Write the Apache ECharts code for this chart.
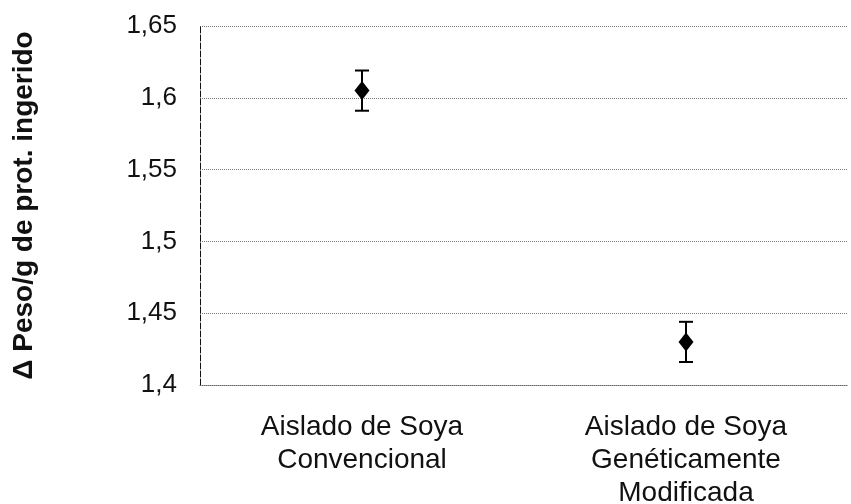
<!DOCTYPE html>
<html>
<head>
<meta charset="utf-8">
<script src="https://cdn.jsdelivr.net/npm/echarts@6/dist/echarts.min.js"></script>
<style>
  html, body { margin: 0; padding: 0; background: #fff; }
  #chart { width: 851px; height: 504px; }
</style>
</head>
<body>
<div id="chart"></div>
<script>
// datos
const categorias = ['Aislado de Soya\nConvencional', 'Aislado de Soya\nGenéticamente\nModificada'];
const medias = [1.605, 1.43];
const errores = [0.014, 0.014];
const yMin = 1.4, yMax = 1.65, yPaso = 0.05;

const chart = echarts.init(document.getElementById('chart'));
const fuente = 'Liberation Sans, Arial, sans-serif';

const option = {
  animation: false,
  grid: { left: 200, right: 3, top: 26, bottom: 119, outerBoundsMode: 'none', containLabel: false },
  xAxis: {
    type: 'category',
    data: categorias,
    axisLine: { show: true, lineStyle: { color: '#666', type: 'dotted', width: 1 } },
    axisTick: { show: false },
    axisLabel: {
      fontFamily: fuente, fontSize: 28, color: '#111',
      lineHeight: 33, margin: 26
    }
  },
  yAxis: {
    type: 'value',
    min: yMin, max: yMax, interval: yPaso,
    name: 'Δ Peso/g de prot. ingerido',
    nameLocation: 'middle',
    nameGap: 162,
    nameTextStyle: { fontFamily: fuente, fontSize: 28, color: '#111', fontWeight: 'bold' },
    axisLine: { show: true, lineStyle: { color: '#111', type: [6, 2], width: 1 } },
    axisTick: { show: false },
    axisLabel: {
      fontFamily: fuente, fontSize: 26, color: '#111', margin: 23,
      formatter: v => String(+v.toFixed(2)).replace('.', ',')
    },
    splitLine: { show: true, lineStyle: { color: '#777', type: 'dotted', width: 1 } }
  },
  series: [
    {
      type: 'custom',
      data: medias.map((m, i) => [i, m - errores[i], m + errores[i]]),
      renderItem: (params, api) => {
        const lo = api.coord([api.value(0), api.value(1)]);
        const hi = api.coord([api.value(0), api.value(2)]);
        const w = 7;
        const st = { stroke: '#000', lineWidth: 2 };
        return {
          type: 'group',
          children: [
            { type: 'line', shape: { x1: lo[0], y1: lo[1], x2: hi[0], y2: hi[1] }, style: st },
            { type: 'line', shape: { x1: lo[0] - w, y1: lo[1], x2: lo[0] + w, y2: lo[1] }, style: st },
            { type: 'line', shape: { x1: hi[0] - w, y1: hi[1], x2: hi[0] + w, y2: hi[1] }, style: st }
          ]
        };
      },
      z: 3
    },
    {
      type: 'scatter',
      data: medias.map((m, i) => [i, m]),
      symbol: 'diamond',
      symbolSize: [15, 19],
      itemStyle: { color: '#000', opacity: 1 },
      z: 4
    }
  ]
};
chart.setOption(option);
</script>
</body>
</html>
